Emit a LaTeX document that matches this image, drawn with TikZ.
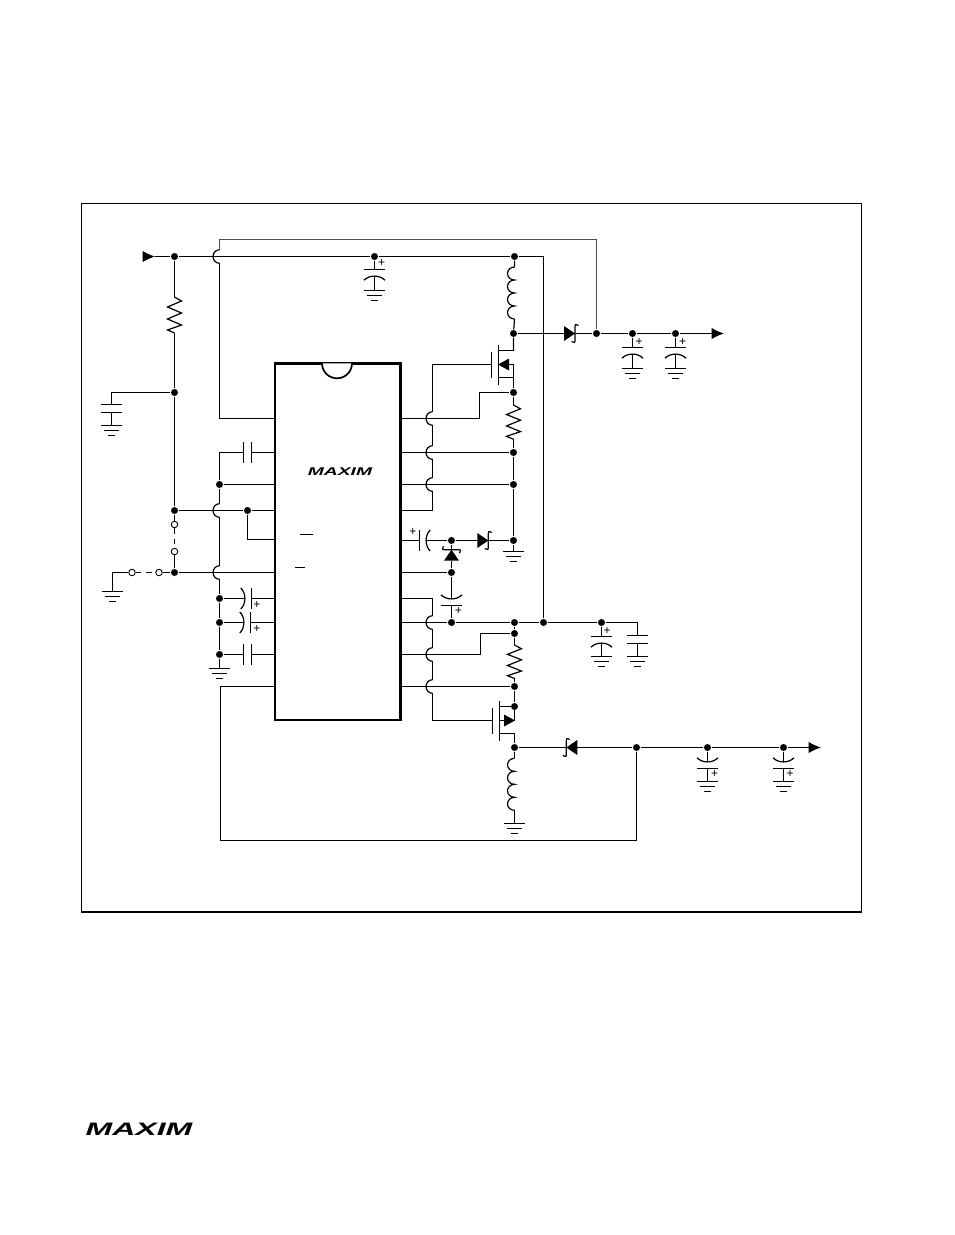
\documentclass[tikz,border=0pt]{standalone}
\usepackage{fontspec}
\setsansfont{Liberation Sans}
\usetikzlibrary{arrows.meta}
\tikzset{
  dot/.style={circle,fill=black,inner sep=0pt,minimum size=7pt},
  open/.style={circle,draw,fill=white,inner sep=0pt,minimum size=6.5pt,line width=.9pt},
  icbox/.style={draw,line width=2.4pt,inner sep=0pt,outer sep=0pt,minimum width=125.6pt,minimum height=356.7pt},
  plus/.style={inner sep=0pt,font=\sffamily\fontsize{12}{12}\selectfont},
  logo/.style={inner sep=0pt,font=\sffamily\bfseries\itshape\fontsize{#1}{#1}\selectfont},
  swdash/.style={dash pattern=on 5.5pt off 5pt},
  faint/.style={black!70,line width=1.3pt},
  tip/.style={-{Latex[length=12.5pt,width=11.5pt]}},
  every pic/.style={yscale=-1},
  gndmark/.pic={
    \coordinate (-o) at (0,0);
    \draw (-10.5,0) -- (10.5,0) (-7.5,5) -- (7.5,5) (-3.5,10) -- (3.5,10);
  },
  hop/.pic={
    \coordinate (-a) at (0,-6.8);
    \coordinate (-b) at (0,6.8);
    \draw (-a) arc(270:90:6.5 and 6.8);
  },
  npcap/.pic={
    \coordinate (-a) at (0,0);
    \coordinate (-b) at (8,0);
    \draw (0,-10.5) -- (0,10.5) (8,-10.5) -- (8,10.5);
  },
  polcap/.pic={
    \coordinate (-s) at (0,0);
    \coordinate (-c) at (6.6,0);
    \draw (0,-10.5) -- (0,10.5);
    \draw (10.7,-10.5) .. controls (5.2,-5) and (5.2,5) .. (10.7,10.5);
  },
  coil/.pic={
    \coordinate (-a) at (0,0);
    \coordinate (-b) at (0,52);
    \draw (-a) arc(270:90:7 and 6.5) arc(270:90:7 and 6.5) arc(270:90:7 and 6.5) arc(270:90:7 and 6.5);
  },
  zigzag/.pic={
    \coordinate (-a) at (0,0);
    \coordinate (-b) at (0,36);
    \draw (-a) -- (7,4) -- (-7,10) -- (7,16) -- (-7,22) -- (7,28) -- (-7,33) -- (-b);
  },
  diode/.pic={
    \coordinate (-a) at (0,0);
    \coordinate (-b) at (11,0);
    \fill (0,-7.5) -- (11,0) -- (0,7.5) -- cycle;
    \draw (14.5,-8) .. controls (11,-9.5) .. (11,-5) -- (11,5) .. controls (11,9.5) .. (7.5,8);
  },
  fetleft/.pic={
    \coordinate (-g) at (0,0);
    \coordinate (-d) at (22,-14);
    \coordinate (-s) at (22,13);
    \draw (0,-13) -- (0,13) (7,-20) -- (7,20);
    \draw (7,-14) -- (-d) (7,13) -- (-s) -- (22,0) -- (17.5,0);
    \fill (6.5,0) -- (17.5,-6) -- (17.5,6) -- cycle;
  },
  fetright/.pic={
    \coordinate (-g) at (0,0);
    \coordinate (-d) at (22,-14);
    \coordinate (-s) at (22,13);
    \draw (0,-13) -- (0,13) (7,-20) -- (7,20);
    \draw (7,13) -- (-s) (7,-14) -- (-d) -- (22,0) (7,0) -- (11.5,0);
    \fill (22.5,0) -- (11.5,-6) -- (11.5,6) -- cycle;
  }
}
\begin{document}
\begin{tikzpicture}[x=1pt,y=1pt,yscale=-1,line width=1.2pt]
  \useasboundingbox (0,0) rectangle (954,1235);

  \coordinate (fa) at (81.5,203.5);
  \coordinate (fb) at (861.5,912);
  \coordinate (fc) at (81.5,912);
  \draw[line width=.9pt] (fa) rectangle (fb);
  \draw[line width=2pt] (fc) -- (fb);

  \node[icbox] (ic) at (337.8,541.7) {};
  \coordinate (nl) at (322,363.3);
  \fill[white] (nl) arc(180:0:15) -- cycle;
  \draw[line width=1.7pt] (nl) arc(180:0:15);
  \coordinate (ba) at (300,534.5);
  \coordinate (bb) at (313,534.5);
  \coordinate (bc) at (295,567.5);
  \coordinate (bd) at (305,567.5);
  \draw (ba) -- (bb) (bc) -- (bd);
  \node[logo=11.2,xscale=1.72] (logoic) at (340,472) {MAXIM};
  \node[logo=18,xscale=1.78] (logopage) at (139,1129.5) {MAXIM};

  \coordinate (l1) at (275,418.5);
  \coordinate (l2) at (275,452.5);
  \coordinate (l3) at (275,484.5);
  \coordinate (l4) at (275,510.5);
  \coordinate (l5) at (275,539.5);
  \coordinate (l6) at (275,572.5);
  \coordinate (l7) at (275,598.5);
  \coordinate (l8) at (275,622.5);
  \coordinate (l9) at (275,654.5);
  \coordinate (l10) at (275,686.5);
  \coordinate (r1) at (400.5,418.5);
  \coordinate (r2) at (400.5,452.5);
  \coordinate (r3) at (400.5,484.5);
  \coordinate (r4) at (400.5,510.5);
  \coordinate (r5) at (400.5,540.5);
  \coordinate (r6) at (400.5,572.5);
  \coordinate (r7) at (400.5,598.5);
  \coordinate (r8) at (400.5,622.5);
  \coordinate (r9) at (400.5,654.5);
  \coordinate (r10) at (400.5,686.5);

  \node[dot] (din) at (174.5,256.5) {};
  \node[dot] (dtop) at (374.5,256.5) {};
  \node[dot] (dcoil) at (514.5,256.5) {};
  \node[dot] (dfilt) at (174.5,392.5) {};
  \node[dot] (dshdn) at (174.5,510.5) {};
  \node[dot] (dref) at (247.5,510.5) {};
  \node[dot] (dgnd) at (219.5,484.5) {};
  \node[dot] (dsw) at (174.5,572.5) {};
  \node[dot] (dca) at (219.5,598.5) {};
  \node[dot] (dcb) at (219.5,622.5) {};
  \node[dot] (dcc) at (219.5,654.5) {};
  \node[dot] (dsw1) at (513.5,333.5) {};
  \node[dot] (dfb) at (596.5,333.5) {};
  \node[dot] (dout1) at (632.5,333.5) {};
  \node[dot] (dout2) at (675.5,333.5) {};
  \node[dot] (dsen1) at (513.5,392.5) {};
  \node[dot] (dsen2) at (513.5,452.5) {};
  \node[dot] (dsen3) at (513.5,484.5) {};
  \node[dot] (dpump) at (513.5,540.5) {};
  \node[dot] (dfly) at (451.5,540.5) {};
  \node[dot] (dlow) at (451.5,572.5) {};
  \node[dot] (dmid) at (451.5,622.5) {};
  \node[dot] (dvin) at (514.5,622.5) {};
  \node[dot] (dbus) at (543.5,622.5) {};
  \node[dot] (dbyp) at (601.5,622.5) {};
  \node[dot] (dsen4) at (514.5,633.5) {};
  \node[dot] (dsen5) at (514.5,686.5) {};
  \node[dot] (dsen6) at (514.5,706.5) {};
  \node[dot] (dsw2) at (514.5,747.5) {};
  \node[dot] (dneg) at (636.5,747.5) {};
  \node[dot] (dout3) at (707.5,747.5) {};
  \node[dot] (dout4) at (783.5,747.5) {};

  \node[open] (swa) at (174.5,524.5) {};
  \node[open] (swb) at (174.5,551.5) {};
  \node[open] (swc) at (132,572.5) {};
  \node[open] (swd) at (159,572.5) {};

  \pic (hopa) at (219.5,256.5) {hop};
  \pic (hopb) at (219.5,510.5) {hop};
  \pic (hopc) at (219.5,572.5) {hop};
  \pic (hopd) at (432.5,418.5) {hop};
  \pic (hope) at (432.5,452.5) {hop};
  \pic (hopf) at (432.5,484.5) {hop};
  \pic (hopg) at (432.5,622.5) {hop};
  \pic (hoph) at (432.5,654.5) {hop};
  \pic (hopi) at (432.5,686.5) {hop};

  \pic (ra) at (174.5,297) {zigzag};
  \pic[yscale=.95] (rb) at (513.5,405) {zigzag};
  \pic[yscale=.93] (rc) at (514.5,645) {zigzag};
  \pic (la) at (514.5,267) {coil};
  \pic (lb) at (514.5,758.3) {coil};
  \pic (da) at (564,333.5) {diode};
  \pic (db) at (477.3,540.5) {diode};
  \pic[rotate=90] (dc) at (451.5,560.7) {diode};
  \pic[rotate=180] (dd) at (577.3,747.5) {diode};
  \pic (qa) at (491.5,364.5) {fetleft};
  \pic (qb) at (492.5,720.5) {fetright};

  \pic[rotate=-90] (ca) at (374.5,269.5) {polcap};
  \pic[rotate=-90] (cb) at (632.5,347.5) {polcap};
  \pic[rotate=-90] (cc) at (675.5,347.5) {polcap};
  \pic[rotate=-90] (cd) at (601.5,636.5) {polcap};
  \pic[rotate=90] (ce) at (707.5,768.5) {polcap};
  \pic[rotate=90] (cf) at (783.5,768.5) {polcap};
  \pic[rotate=90] (cg) at (451.5,605.5) {polcap};
  \pic (ch) at (419.5,540.5) {polcap};
  \pic[rotate=180] (ci) at (251.5,598.5) {polcap};
  \pic[rotate=180] (cj) at (250.5,622.5) {polcap};
  \pic[rotate=-90] (ck) at (111.5,404.5) {npcap};
  \pic[rotate=-90] (cl) at (637.5,635.5) {npcap};
  \pic (cm) at (243.5,452.5) {npcap};
  \pic (cn) at (243.5,654.5) {npcap};

  \node[plus] (pa) at (381.7,263.5) {+};
  \node[plus] (pb) at (639,342) {+};
  \node[plus] (pc) at (682.7,342) {+};
  \node[plus] (pd) at (607,631) {+};
  \node[plus] (pe) at (714.7,774.3) {+};
  \node[plus] (pf) at (790,774.3) {+};
  \node[plus] (pg) at (458.3,611.5) {+};
  \node[plus] (ph) at (413,532) {+};
  \node[plus] (pi) at (257,605) {+};
  \node[plus] (pj) at (257,629.5) {+};

  \pic (ga) at (111.5,425.5) {gndmark};
  \pic (gb) at (112.5,591.5) {gndmark};
  \pic (gc) at (219.5,668.5) {gndmark};
  \pic (gd) at (374.5,290.5) {gndmark};
  \pic (ge) at (632.5,368.5) {gndmark};
  \pic (gf) at (675.5,368.5) {gndmark};
  \pic (gg) at (513.5,551.5) {gndmark};
  \pic (gh) at (601.5,656.5) {gndmark};
  \pic (gi) at (637.5,656.5) {gndmark};
  \pic (gj) at (514.5,823.5) {gndmark};
  \pic (gk) at (707.5,781.5) {gndmark};
  \pic (gl) at (783.5,781.5) {gndmark};

  \coordinate (vin) at (142.5,256.5);
  \coordinate (vtip) at (155,256.5);
  \coordinate (voa) at (724,333.5);
  \coordinate (vob) at (821,747.5);
  \coordinate (loop) at (219.5,239.5);
  \coordinate (kr) at (479.5,392.5);
  \coordinate (ks) at (480.5,633.5);
  \coordinate (kt) at (220.5,840.5);

  \draw[tip] (vin) -- (vtip);
  \draw (vtip) -- (din) -- (dtop) -- (dcoil) -| (dbus);
  \draw[faint] (dfb) |- (loop) -- (hopa-a);
  \draw (hopa-b) |- (l1);
  \draw (din) -- (ra-a) (ra-b) -- (dfilt) -- (dshdn);
  \draw (dfilt) -| (ck-a) (ck-b) -- (ga-o);
  \draw (dshdn) -- (dref) -- (l4);
  \draw (dref) |- (l5);
  \draw (dgnd) -- (l3);
  \draw (l2) -- (cm-b) (cm-a) -| (dgnd) -- (hopb-a);
  \draw (hopb-b) -- (hopc-a);
  \draw (hopc-b) -- (dca) -- (dcb) -- (dcc) -- (gc-o);
  \draw (dshdn) -- (swa) (swb) -- (dsw) -- (l6);
  \draw[swdash] (swa) -- (swb);
  \draw (gb-o) |- (swc);
  \draw[swdash] (swc) -- (swd);
  \draw (swd) -- (dsw);
  \draw (dca) -- (ci-c) (ci-s) -- (l7);
  \draw (dcb) -- (cj-c) (cj-s) -- (l8);
  \draw (dcc) -- (cn-a) (cn-b) -- (l9);
  \draw (l10) -| (kt) -| (dneg);

  \draw (dtop) -- (ca-s) (ca-c) -- (gd-o);
  \draw (dcoil) -- (la-a) (la-b) -- (dsw1) -- (qa-d);
  \draw (dsw1) -- (da-a) (da-b) -- (dfb) -- (dout1) -- (dout2);
  \draw[tip] (dout2) -- (voa);
  \draw (dout1) -- (cb-s) (cb-c) -- (ge-o);
  \draw (dout2) -- (cc-s) (cc-c) -- (gf-o);
  \draw (qa-s) -- (dsen1) -- (rb-a) (rb-b) -- (dsen2) -- (dsen3) -- (dpump) -- (gg-o);
  \draw (r1) -| (kr) -- (dsen1);
  \draw (r2) -- (dsen2) (r3) -- (dsen3);
  \draw (hopd-a) |- (qa-g);
  \draw (hopd-b) -- (hope-a) (hope-b) -- (hopf-a);
  \draw (hopf-b) |- (r4);
  \draw (r5) -- (ch-s) (ch-c) -- (dfly) -- (db-a) (db-b) -- (dpump);
  \draw (dfly) -- (dc-b) (dc-a) -- (dlow);
  \draw (r6) -- (dlow) -- (cg-c) (cg-s) -- (dmid);
  \draw (r8) -- (dmid) -- (dvin) -- (dbus) -- (dbyp) -| (cl-a);
  \draw (dbyp) -- (cd-s) (cd-c) -- (gh-o);
  \draw (cl-b) -- (gi-o);
  \draw (r7) -| (hopg-a);
  \draw (hopg-b) -- (hoph-a) (hoph-b) -- (hopi-a);
  \draw (hopi-b) |- (qb-g);
  \draw (r9) -| (ks) -- (dsen4);
  \draw (dvin) -- (dsen4) -- (rc-a) (rc-b) -- (dsen5) -- (dsen6);
  \draw (r10) -- (dsen5);
  \draw (qb-s) -- (dsw2) -- (lb-a) (lb-b) -- (gj-o);
  \draw (dsw2) -- (dd-b) (dd-a) -- (dneg) -- (dout3) -- (dout4);
  \draw[tip] (dout4) -- (vob);
  \draw (dout3) -- (ce-c) (ce-s) -- (gk-o);
  \draw (dout4) -- (cf-c) (cf-s) -- (gl-o);
\end{tikzpicture}
\end{document}
